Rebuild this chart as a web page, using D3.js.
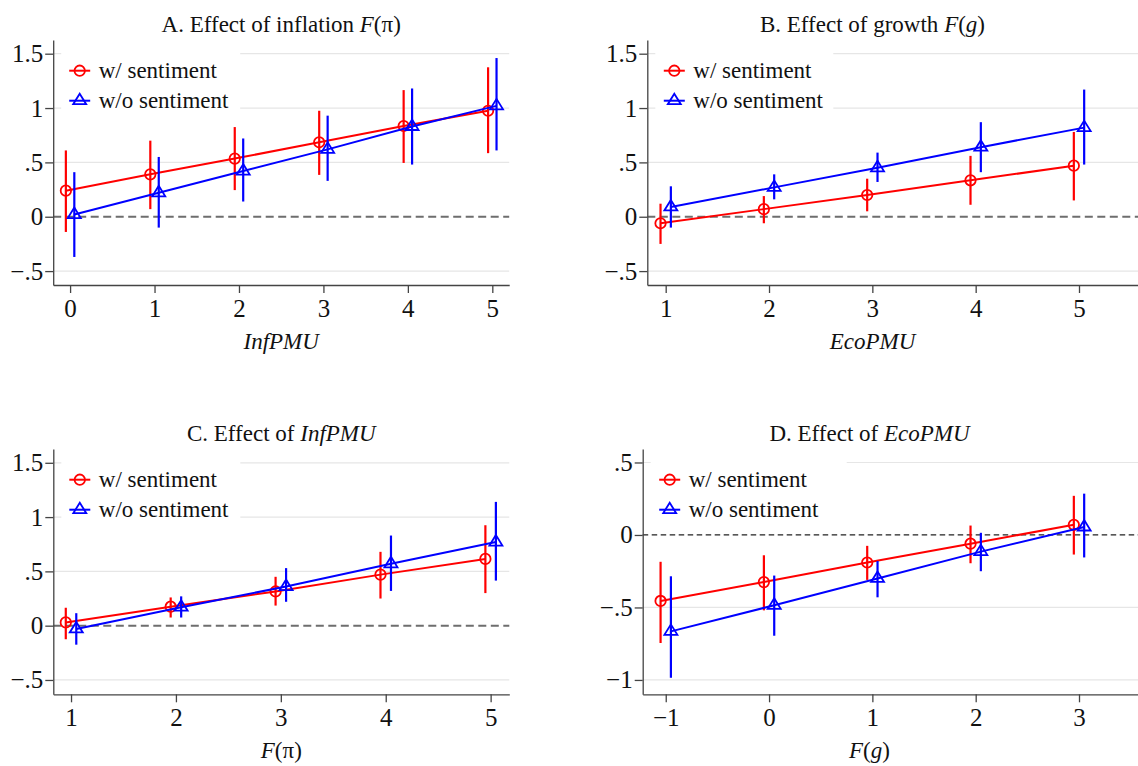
<!DOCTYPE html>
<html>
<head>
<meta charset="utf-8">
<script src="https://cdn.jsdelivr.net/npm/d3@7"></script>
<style>
  body { margin: 0; background: #fff; }
  svg { display: block; }
</style>
</head>
<body>
<script>
// ---------------- DATA ----------------
const legendLabels = ["w/ sentiment", "w/o sentiment"];

// Panel A: Effect of inflation F(pi), x = InfPMU
const xA = [0, 1, 2, 3, 4, 5];
const redA = [0.24, 0.39, 0.535, 0.685, 0.835, 0.975];
const redALo = [-0.14, 0.07, 0.245, 0.385, 0.495, 0.585];
const redAHi = [0.61, 0.70, 0.825, 0.975, 1.165, 1.375];
const blueA = [0.02, 0.22, 0.42, 0.62, 0.83, 1.02];
const blueALo = [-0.37, -0.10, 0.14, 0.33, 0.48, 0.61];
const blueAHi = [0.41, 0.55, 0.72, 0.93, 1.18, 1.46];

// Panel B: Effect of growth F(g), x = EcoPMU
const xB = [1, 2, 3, 4, 5];
const redB = [-0.06, 0.07, 0.20, 0.335, 0.47];
const redBLo = [-0.25, -0.06, 0.05, 0.11, 0.15];
const redBHi = [0.12, 0.19, 0.35, 0.56, 0.78];
const blueB = [0.09, 0.27, 0.45, 0.64, 0.82];
const blueBLo = [-0.10, 0.16, 0.32, 0.41, 0.48];
const blueBHi = [0.28, 0.39, 0.59, 0.87, 1.17];

// Panel C: Effect of InfPMU, x = F(pi)
const xC = [1, 2, 3, 4, 5];
const redC = [0.03, 0.175, 0.315, 0.47, 0.615];
const redCLo = [-0.125, 0.075, 0.185, 0.25, 0.30];
const redCHi = [0.165, 0.26, 0.45, 0.68, 0.925];
const blueC = [-0.03, 0.17, 0.36, 0.57, 0.77];
const blueCLo = [-0.175, 0.075, 0.22, 0.32, 0.415];
const blueCHi = [0.115, 0.27, 0.53, 0.83, 1.14];

// Panel D: Effect of EcoPMU, x = F(g)
const xD = [-1, 0, 1, 2, 3];
const redD = [-0.455, -0.325, -0.19, -0.06, 0.07];
const redDLo = [-0.745, -0.52, -0.31, -0.195, -0.135];
const redDHi = [-0.185, -0.14, -0.075, 0.065, 0.27];
const blueD = [-0.665, -0.485, -0.30, -0.115, 0.055];
const blueDLo = [-0.985, -0.695, -0.43, -0.25, -0.155];
const blueDHi = [-0.285, -0.28, -0.18, 0.015, 0.285];

// Tick values
const yTicksTop = [-0.5, 0, 0.5, 1, 1.5];
const yTicksC = [-0.5, 0, 0.5, 1, 1.5];
const yTicksD = [-1, -0.5, 0, 0.5];

// Titles / axis labels (segments: text, italic?)
const titleA = [["A. Effect of inflation ", false], ["F", true], ["(π)", false]];
const titleB = [["B. Effect of growth ", false], ["F", true], ["(", false], ["g", true], [")", false]];
const titleC = [["C. Effect of ", false], ["InfPMU", true]];
const titleD = [["D. Effect of ", false], ["EcoPMU", true]];
const xLabelA = [["InfPMU", true]];
const xLabelB = [["EcoPMU", true]];
const xLabelC = [["F", true], ["(π)", false]];
const xLabelD = [["F", true], ["(", false], ["g", true], [")", false]];

// ---------------- DRAWING ----------------
const FONT = "'Liberation Serif', 'Times New Roman', Times, serif";
const RED = "#ff0000", BLUE = "#0000ff";
const OFF = 0.05;

const svg = d3.select("body").append("svg")
  .attr("width", 1138).attr("height", 766)
  .attr("font-family", FONT);

function fmtY(v) {
  if (v === 0) return "0";
  let s = String(Math.abs(v));
  if (s.startsWith("0.")) s = s.slice(1);
  return (v < 0 ? "\u2212" : "") + s;
}
function fmtX(v) { return (v < 0 ? "\u2212" : "") + Math.abs(v); }

function richText(g, segs, x, y, anchor) {
  const t = g.append("text").attr("x", x).attr("y", y)
    .attr("text-anchor", anchor).attr("font-size", 23)
    .attr("font-family", FONT).attr("fill", "#111");
  segs.forEach(([s, it]) => {
    t.append("tspan").text(s).attr("font-style", it ? "italic" : "normal");
  });
  return t;
}

function drawPanel(cfg) {
  const g = svg.append("g");
  const x = d3.scaleLinear().domain(cfg.xDom).range([cfg.left, cfg.right]);
  const y = d3.scaleLinear().domain(cfg.yDom).range([cfg.bottom, cfg.top]);

  // gridlines
  g.selectAll(".grid").data(cfg.yTicks.filter(v => v !== 0)).enter().append("line")
    .attr("x1", cfg.left).attr("x2", cfg.right)
    .attr("y1", d => y(d)).attr("y2", d => y(d))
    .attr("stroke", "#e6e6e6").attr("stroke-width", 1.2);

  // zero reference
  g.append("line")
    .attr("x1", cfg.left).attr("x2", cfg.right)
    .attr("y1", y(0)).attr("y2", y(0))
    .attr("stroke", cfg.zeroColor).attr("stroke-width", cfg.zeroWidth)
    .attr("stroke-dasharray", cfg.zeroDash);

  // axes
  const ya = g.append("g").attr("transform", `translate(${cfg.left},0)`)
    .call(d3.axisLeft(y).tickValues(cfg.yTicks).tickFormat(fmtY).tickSize(8).tickSizeOuter(0).tickPadding(2));
  const xa = g.append("g").attr("transform", `translate(0,${cfg.bottom})`)
    .call(d3.axisBottom(x).tickValues(cfg.xTicks).tickFormat(fmtX).tickSize(8).tickSizeOuter(0).tickPadding(6));
  [ya, xa].forEach(a => {
    a.attr("font-family", FONT).attr("font-size", 25);
    a.select(".domain").attr("stroke", "#444").attr("stroke-width", 1.3);
    a.selectAll(".tick line").attr("stroke", "#444").attr("stroke-width", 1.3);
    a.selectAll(".tick text").attr("fill", "#111");
  });

  // series
  const series = [
    { m: cfg.red, lo: cfg.redLo, hi: cfg.redHi, c: RED, off: -OFF, shape: "circle" },
    { m: cfg.blue, lo: cfg.blueLo, hi: cfg.blueHi, c: BLUE, off: OFF, shape: "tri" }
  ];
  series.forEach(s => {
    const pts = cfg.xs.map((xv, i) => ({ x: xv + s.off, m: s.m[i], lo: s.lo[i], hi: s.hi[i] }));
    g.selectAll(null).data(pts).enter().append("line")
      .attr("x1", d => x(d.x)).attr("x2", d => x(d.x))
      .attr("y1", d => y(d.lo)).attr("y2", d => y(d.hi))
      .attr("stroke", s.c).attr("stroke-width", 2.2);
    g.append("path").datum(pts)
      .attr("d", d3.line().x(d => x(d.x)).y(d => y(d.m)))
      .attr("fill", "none").attr("stroke", s.c).attr("stroke-width", 2);
    pts.forEach(d => drawMarker(g, s.shape, x(d.x), y(d.m), s.c));
  });

  // legend
  const lx = cfg.left + cfg.legDx, ly1 = cfg.top + 30.7, ly2 = ly1 + 30;
  g.append("rect").attr("x", cfg.left + 8).attr("y", ly1 - 20)
    .attr("width", cfg.legW).attr("height", ly2 - ly1 + 37).attr("fill", "#fff");
  [[RED, "circle", ly1, legendLabels[0]], [BLUE, "tri", ly2, legendLabels[1]]].forEach(([c, sh, yy, lab]) => {
    g.append("line").attr("x1", lx).attr("x2", lx + 21).attr("y1", yy).attr("y2", yy)
      .attr("stroke", c).attr("stroke-width", 2);
    drawMarker(g, sh, lx + 10.5, yy, c);
    g.append("text").attr("x", lx + 29.5).attr("y", yy).attr("dy", "0.33em")
      .attr("font-size", 23).attr("font-family", FONT).attr("fill", "#111").text(lab);
  });

  // title & x label
  richText(g, cfg.title, cfg.titleX, cfg.top - 8.5, "middle");
  richText(g, cfg.xLabel, cfg.titleX, cfg.bottom + 64, "middle");
}

function drawMarker(g, shape, cx, cy, c) {
  if (shape === "circle") {
    g.append("circle").attr("cx", cx).attr("cy", cy).attr("r", 5.2)
      .attr("fill", "none").attr("stroke", c).attr("stroke-width", 1.8);
  } else {
    const h = 10.5, w = 13;
    const p = `M${cx},${cy - 2 * h / 3} L${cx + w / 2},${cy + h / 3} L${cx - w / 2},${cy + h / 3} Z`;
    g.append("path").attr("d", p).attr("fill", "none").attr("stroke", c).attr("stroke-width", 1.8);
  }
}

drawPanel({
  xs: xA, red: redA, redLo: redALo, redHi: redAHi, blue: blueA, blueLo: blueALo, blueHi: blueAHi,
  xDom: [-0.2, 5.2], left: 53.2, right: 509.2, xTicks: xA,
  yDom: [-0.628, 1.626], top: 40, bottom: 285, yTicks: yTicksTop,
  zeroColor: "#6e6e6e", zeroWidth: 2, zeroDash: "8,4.5",
  legDx: 16, legW: 179, title: titleA, xLabel: xLabelA, titleX: 281.2
});
drawPanel({
  xs: xB, red: redB, redLo: redBLo, redHi: redBHi, blue: blueB, blueLo: blueBLo, blueHi: blueBHi,
  xDom: [0.822, 5.571], left: 647.3, right: 1138, xTicks: xB,
  yDom: [-0.628, 1.626], top: 40, bottom: 285, yTicks: yTicksTop,
  zeroColor: "#6e6e6e", zeroWidth: 2, zeroDash: "8,4.5",
  legDx: 16.5, legW: 178, title: titleB, xLabel: xLabelB, titleX: 872.5
});
drawPanel({
  xs: xC, red: redC, redLo: redCLo, redHi: redCHi, blue: blueC, blueLo: blueCLo, blueHi: blueCHi,
  xDom: [0.831, 5.178], left: 53.3, right: 509.3, xTicks: xC,
  yDom: [-0.632, 1.627], top: 449, bottom: 694.3, yTicks: yTicksC,
  zeroColor: "#6e6e6e", zeroWidth: 2, zeroDash: "8,4.5",
  legDx: 16, legW: 179, title: titleC, xLabel: xLabelC, titleX: 281.3
});
drawPanel({
  xs: xD, red: redD, redLo: redDLo, redHi: redDHi, blue: blueD, blueLo: blueDLo, blueHi: blueDHi,
  xDom: [-1.223, 3.571], left: 642.7, right: 1138, xTicks: xD,
  yDom: [-1.099, 0.593], top: 449, bottom: 694.3, yTicks: yTicksD,
  zeroColor: "#222", zeroWidth: 1.3, zeroDash: "5.5,3.5",
  legDx: 16.5, legW: 196, title: titleD, xLabel: xLabelD, titleX: 869.5
});
</script>
</body>
</html>
